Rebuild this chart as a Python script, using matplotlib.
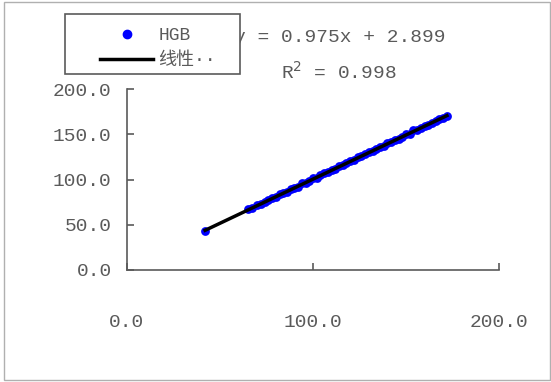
import matplotlib.pyplot as plt
from matplotlib.lines import Line2D
from matplotlib.patches import Rectangle

# HGB paired measurements
hgb_x = [42, 65, 67, 70, 72, 74, 76, 78, 80, 82, 84, 86, 88, 90, 92, 94, 96, 98,
         100, 102, 104, 106, 108, 110, 112, 114, 116, 118, 120, 122, 124, 126, 128,
         130, 132, 134, 136, 138, 140, 142, 144, 146, 148, 150, 152, 154, 156, 158,
         160, 162, 164, 166, 168, 170, 172]
hgb_y = [43.5, 66.9, 68.0, 71.8, 72.9, 75.6, 77.1, 79.9, 80.2, 83.5, 85.6, 86.0,
         89.7, 91.1, 92.0, 95.8, 96.5, 98.0, 101.2, 101.9, 104.5, 106.9, 108.0,
         110.8, 112.1, 114.9, 115.8, 118.6, 120.5, 121.7, 124.9, 126.0, 127.8,
         130.9, 131.6, 134.0, 135.9, 137.2, 140.1, 141.0, 143.8, 144.9, 146.7,
         149.9, 150.3, 154.2, 155.0, 157.0, 158.8, 160.1, 162.6, 164.3, 166.6,
         168.0, 170.5]

slope = 0.975
intercept = 2.899
r2 = 0.998

ticks = [0, 50, 100, 150, 200]
xticks = [0, 100, 200]

grey = '#5a5a5a'
mono = 'Liberation Mono'
fs = 14

fig = plt.figure(figsize=(5.51, 3.82), dpi=100)
ax = fig.add_axes([127/551, 1-270/382, (499-127)/551, (270-89)/382])

ax.scatter(hgb_x, hgb_y, s=40, color='#0000ff', zorder=2, linewidths=0)
lx = [min(hgb_x), max(hgb_x)]
ly = [slope * v + intercept for v in lx]
ax.plot(lx, ly, color='black', lw=2.5, zorder=3)

ax.set_xlim(0, 200)
ax.set_ylim(0, 200)
ax.set_xticks(xticks)
ax.set_yticks(ticks)
ax.set_xticklabels(['%.1f' % t for t in xticks], family=mono, fontsize=fs, color=grey)
ax.set_yticklabels(['%.1f' % t for t in ticks], family=mono, fontsize=fs, color=grey)
ax.tick_params(direction='in', length=5, width=1.2, color=grey)
ax.tick_params(axis='x', pad=32)
ax.tick_params(axis='y', pad=11)
for s in ['top', 'right']:
    ax.spines[s].set_visible(False)
for s in ['left', 'bottom']:
    ax.spines[s].set_color(grey)
    ax.spines[s].set_linewidth(1.2)

fig.text(234/551, 1-37/382, 'y = %.3fx + %.3f' % (slope, intercept),
         family=mono, fontsize=fs, color=grey, va='center', ha='left', zorder=1)
fig.text(281/551, 1-72/382, 'R$^2$ = %.3f' % r2,
         family=mono, fontsize=fs, color=grey, va='center', ha='left', zorder=1)

# legend frame drawn separately so the entries can sit centred in it
fig.patches.append(Rectangle((65/551, 1-74/382), 175/551, 60/382, transform=fig.transFigure,
                             facecolor='white', edgecolor=grey, lw=1.2, zorder=4))
handles = [Line2D([], [], marker='o', ls='none', color='#0000ff', markersize=6),
           Line2D([], [], color='black', lw=2.5)]
leg = fig.legend(handles, ['HGB', '线性··'], loc='center',
                 bbox_to_anchor=(158/551, 1-48/382), frameon=False,
                 prop={'family': ['Liberation Mono', 'Noto Sans CJK SC'], 'size': 13},
                 handlelength=2.9, handletextpad=0.3, labelspacing=0.45,
                 borderpad=0, borderaxespad=0)
for t in leg.get_texts():
    t.set_color(grey)
leg.set_zorder(5)

fig.patches.append(Rectangle((4/551, 2/382), 546/551, 378/382, transform=fig.transFigure,
                             fill=False, edgecolor='#b0b0b0', lw=1))

fig.savefig('out.png', dpi=100)
